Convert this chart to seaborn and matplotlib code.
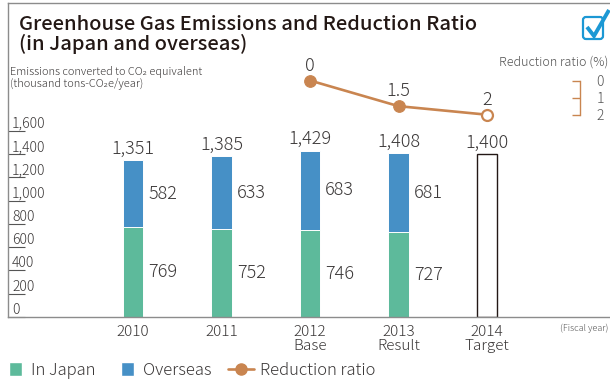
import matplotlib
matplotlib.use("Agg")
import matplotlib.pyplot as plt
import matplotlib.transforms as mtransforms
from matplotlib.patches import Patch, FancyBboxPatch
from matplotlib.lines import Line2D
from matplotlib.legend_handler import HandlerLine2D
import numpy as np
import pandas as pd
import seaborn as sns

# ---- data -------------------------------------------------------------
years = [2010, 2011, 2012, 2013, 2014]
year_labels = ["2010", "2011", "2012\nBase", "2013\nResult", "2014\nTarget"]
in_japan = [769, 752, 746, 727]
overseas = [582, 633, 683, 681]
totals = [1351, 1385, 1429, 1408, 1400]
target_year = 2014

ratio_years = [2012, 2013, 2014]
ratio = [0, 1.5, 2]
ratio_labels = ["0", "1.5", "2"]
ratio_is_target = [False, False, True]

emission_ticks = [0, 200, 400, 600, 800, 1000, 1200, 1400, 1600]
ratio_ticks = [0, 1, 2]

# ---- style ------------------------------------------------------------
GREEN = "#5dba9b"
BLUE = "#4690c6"
ORANGE = "#c98550"
TEXT = "#3b3838"
FRAME = "#8c8c8c"
CHECK = "#1c98d4"

sns.set_theme(style="white")
plt.rcParams["font.family"] = ["Noto Sans CJK JP", "DejaVu Sans"]
plt.rcParams["font.weight"] = "light"
plt.rcParams["text.color"] = TEXT

W, H = 610, 380
fig = plt.figure(figsize=(W / 100, H / 100), dpi=100)


def fx(px):
    return px / W


def fy(py):
    return 1 - py / H


AX_L, AX_R, AX_T, AX_B = 8, 610, 3, 317
ax = fig.add_axes([fx(AX_L), fy(AX_B), fx(AX_R) - fx(AX_L), fy(AX_T) - fy(AX_B)])

df = pd.DataFrame({
    "year": years,
    "total": totals,
    "japan": in_japan + [np.nan] * (len(years) - len(in_japan)),
})

# total height in the overseas colour, Japan share drawn over its lower part
sns.barplot(data=df, x="year", y="total", native_scale=True, width=0.237,
            color=BLUE, saturation=1, edgecolor="white", linewidth=0.7,
            errorbar=None, ax=ax)
for patch, yr in zip(ax.patches, years):
    if yr == target_year:
        patch.set_facecolor("white")
        patch.set_edgecolor("#231815")
        patch.set_linewidth(1.0)
sns.barplot(data=df.dropna(), x="year", y="japan", native_scale=True, width=0.237,
            color=GREEN, saturation=1, edgecolor="white", linewidth=0.7,
            errorbar=None, ax=ax)

half_w = 0.237 / 2
for yr, t in zip(years, totals):
    ax.annotate(f"{t:,}", (yr, t), xytext=(0, 4.5), textcoords="offset points",
                ha="center", va="baseline", fontsize=13, color=TEXT)
for yr, j, o in zip(years, in_japan, overseas):
    ax.annotate(str(j), (yr + half_w, j / 2), xytext=(3.5, 0), textcoords="offset points",
                ha="left", va="center", fontsize=13, color=TEXT)
    ax.annotate(str(o), (yr + half_w, j + o / 2), xytext=(3.5, 0), textcoords="offset points",
                ha="left", va="center", fontsize=13, color=TEXT)

# emissions axis
px_per_unit = 163 / 1400
ax.set_ylim(0, (AX_B - AX_T) / px_per_unit)
x_px = 88.5
ax.set_xlim(2010 - (133 - AX_L) / x_px, 2010 + (AX_R - 133) / x_px)
ax.set_yticks(emission_ticks, [f"{v:,}" for v in emission_ticks])
ax.set_xticks(years, year_labels)
ax.tick_params(axis="y", direction="in", length=12, width=0.8, color="#555555",
               pad=-3, labelsize=10, labelcolor=TEXT, left=True)
ax.tick_params(axis="x", length=0, pad=6, labelsize=11, labelcolor=TEXT)
for lbl in ax.get_yticklabels():
    lbl.set_horizontalalignment("left")
    lbl.set_verticalalignment("bottom")
for lbl in ax.get_xticklabels():
    lbl.set_linespacing(0.95)
ax.set_xlabel("")
ax.set_ylabel("")
for side in ("left", "top", "bottom"):
    ax.spines[side].set_visible(True)
    ax.spines[side].set_color(FRAME)
    ax.spines[side].set_linewidth(1.0)
ax.spines["right"].set_visible(False)

# reduction ratio axis
ax2 = ax.twinx()
r_px = 17.1
r0 = 80.5
ax2.set_ylim((AX_B - r0) / r_px, (AX_T - r0) / r_px)
sns.lineplot(x=ratio_years, y=ratio, color=ORANGE, linewidth=1.9, ax=ax2)
filled = [(x, y) for x, y, t in zip(ratio_years, ratio, ratio_is_target) if not t]
hollow = [(x, y) for x, y, t in zip(ratio_years, ratio, ratio_is_target) if t]
sns.scatterplot(x=[p[0] for p in filled], y=[p[1] for p in filled], color=ORANGE,
                s=70, edgecolor=ORANGE, linewidth=0.8, zorder=5, ax=ax2)
sns.scatterplot(x=[p[0] for p in hollow], y=[p[1] for p in hollow], color="white",
                s=62, edgecolor=ORANGE, linewidth=1.6, zorder=5, ax=ax2)
for x, y, s in zip(ratio_years, ratio, ratio_labels):
    ax2.annotate(s, (x, y), xytext=(0, 7), textcoords="offset points",
                 ha="center", va="baseline", fontsize=13, color=TEXT)

ax2.set_ylim((AX_B - r0) / r_px, (AX_T - r0) / r_px)
ax2.set_ylabel("")
ax2.set_yticks(ratio_ticks, [str(v) for v in ratio_ticks])
ax2.tick_params(axis="y", direction="in", length=6, width=1.0, color=ORANGE,
                pad=12, labelsize=10, labelcolor="#555555", right=True, left=False)
for side in ("left", "top", "bottom"):
    ax2.spines[side].set_visible(False)
ax2.spines["right"].set_position(("axes", (580 - AX_L) / (AX_R - AX_L)))
ax2.spines["right"].set_bounds(ratio_ticks[0], ratio_ticks[-1])
ax2.spines["right"].set_color(ORANGE)
ax2.spines["right"].set_linewidth(1.0)
ax.set_xlim(2010 - (133 - AX_L) / x_px, 2010 + (AX_R - 133) / x_px)

# titles and axis captions
fig.text(fx(19), fy(29.5), "Greenhouse Gas Emissions and Reduction Ratio",
         fontsize=14.5, fontweight="medium", va="baseline", color="#231815")
fig.text(fx(19), fy(49.5), "(in Japan and overseas)",
         fontsize=14.5, fontweight="medium", va="baseline", color="#231815")
fig.text(fx(10), fy(75), "Emissions converted to CO\u2082 equivalent",
         fontsize=7.9, va="baseline", color=TEXT)
fig.text(fx(10), fy(86.5), "(thousand tons-CO\u2082e/year)",
         fontsize=7.9, va="baseline", color=TEXT)
fig.text(fx(608), fy(66), "Reduction ratio (%)", fontsize=9, ha="right",
         va="baseline", color="#555555")
fig.text(fx(608), fy(331), "(Fiscal year)", fontsize=6.5, ha="right",
         va="baseline", color="#555555")

# check-box emblem
ident = mtransforms.IdentityTransform()
box = FancyBboxPatch((583, H - 39), 20, 22, boxstyle="round,pad=0,rounding_size=3",
                     facecolor="white", edgecolor=CHECK, linewidth=1.6, transform=ident)
fig.add_artist(box)
fig.add_artist(Line2D([587, 594, 609], [H - 27, H - 36, H - 10], color=CHECK,
                      linewidth=2.8, solid_capstyle="butt", solid_joinstyle="miter",
                      transform=ident))


# legend: the line entry reaches further left than its handle box
class WideLineHandler(HandlerLine2D):
    def create_artists(self, legend, orig_handle, xdescent, ydescent, width, height,
                       fontsize, trans):
        ext_left = 0.72 * width
        ext_right = 0.3 * width
        return super().create_artists(legend, orig_handle, xdescent + ext_left, ydescent,
                                      width + ext_left + ext_right, height, fontsize, trans)


ratio_handle = Line2D([], [], color=ORANGE, linewidth=1.9, marker="o", markersize=8)
handles = [Patch(facecolor=GREEN), Patch(facecolor=BLUE), ratio_handle]
labels = ["In Japan", "Overseas", "Reduction ratio"]
fig.legend(handles, labels, loc="center left", bbox_to_anchor=(fx(9), fy(370.5)),
           ncol=3, frameon=False, fontsize=12, handlelength=0.77, handleheight=0.88,
           handletextpad=0.55, columnspacing=1.55, borderpad=0, borderaxespad=0,
           numpoints=1, labelcolor=TEXT,
           handler_map={ratio_handle: WideLineHandler()})

fig.savefig("out.png", dpi=100)
